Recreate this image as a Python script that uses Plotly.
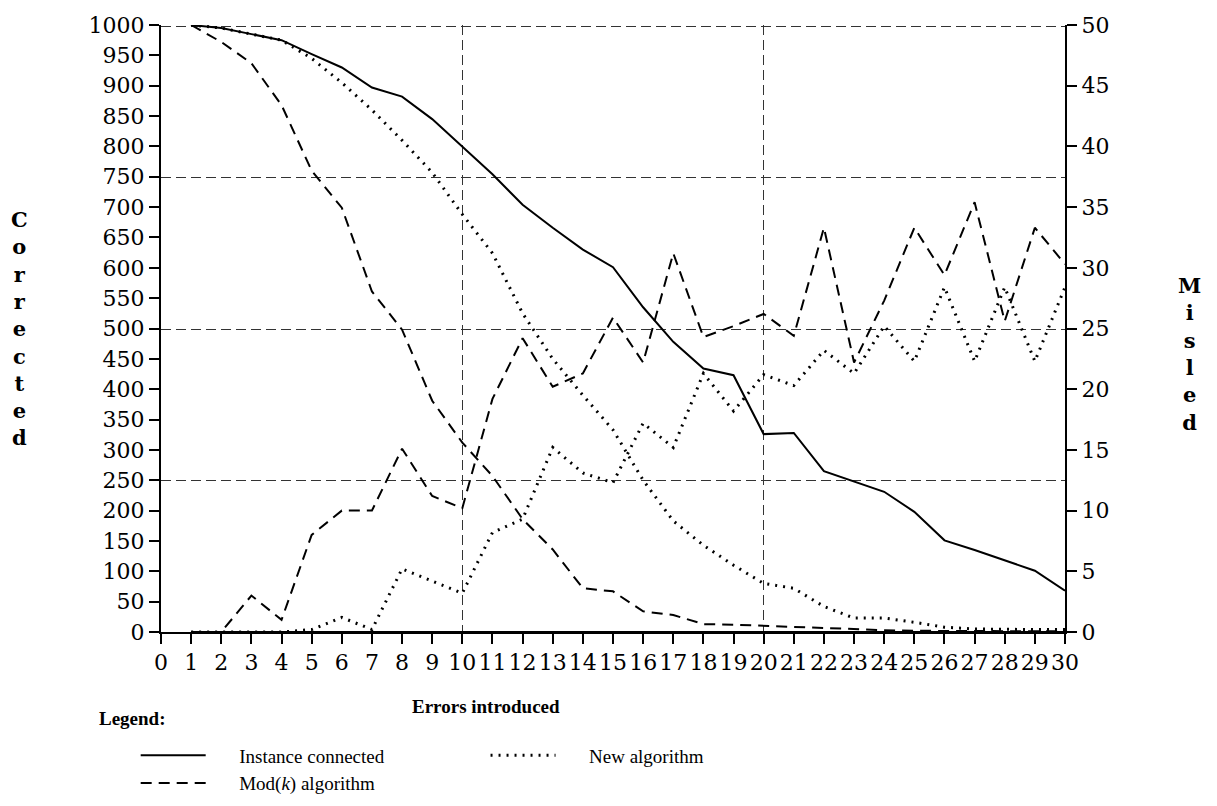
import plotly.graph_objects as go

errors = list(range(1, 31))

# Corrected (left axis)
inst_corrected = [1000, 995, 985, 975, 952, 930, 897, 882, 845, 800, 754, 704, 666, 630, 601,
                  535, 478, 434, 423, 326, 328, 265, 248, 231, 198, 151, 135, 118, 101, 68]
new_corrected = [1000, 995, 985, 975, 945, 905, 860, 810, 757, 688, 624, 525, 450, 390, 333,
                 250, 183, 143, 110, 80, 72, 42, 23, 23, 16, 8, 5, 4, 4, 4]
mod_corrected = [1000, 972, 937, 868, 760, 699, 561, 498, 381, 312, 257, 186, 136, 72, 67,
                 34, 28, 13, 12, 10, 8, 6, 4, 3, 2, 2, 1, 1, 1, 1]

# Misled (right axis)
inst_misled = [0] * 30
new_misled = [0, 0, 0, 0, 0.2, 1.2, 0.2, 5.2, 4.2, 3.2, 8.2, 9.3, 15.2, 13.1, 12.3,
              17.2, 15.2, 21.3, 18.2, 21.2, 20.3, 23.2, 21.3, 25.2, 22.3, 28.4, 22.3, 28.4, 22.3, 28.4]
mod_misled = [0, 0, 3.0, 1.0, 8.0, 10.0, 10.0, 15.1, 11.2, 10.2, 19.2, 24.2, 20.2, 21.3, 25.9,
              22.2, 31.2, 24.3, 25.2, 26.2, 24.4, 33.3, 22.2, 27.3, 33.3, 29.4, 35.4, 25.6, 33.3, 30.3]

SOLID = dict(color="black", width=2)
DOT = dict(color="black", width=3, dash="2px,6px")
DASH = dict(color="black", width=2, dash="11px,7px")
PAD = "&nbsp;" * 6

fig = go.Figure()
fig.add_trace(go.Scatter(x=errors, y=inst_corrected, mode="lines", line=SOLID,
                         xaxis="x", yaxis="y", name=PAD + "Instance connected", legend="legend"))
fig.add_trace(go.Scatter(x=errors, y=mod_corrected, mode="lines", line=DASH,
                         xaxis="x", yaxis="y", name=PAD + "Mod(<i>k</i>) algorithm", legend="legend"))
fig.add_trace(go.Scatter(x=errors, y=new_corrected, mode="lines", line=DOT,
                         xaxis="x", yaxis="y", name=PAD + "New algorithm", legend="legend2"))
fig.add_trace(go.Scatter(x=errors, y=new_misled, mode="lines", line=DOT,
                         xaxis="x", yaxis="y2", showlegend=False))
fig.add_trace(go.Scatter(x=errors, y=mod_misled, mode="lines", line=DASH,
                         xaxis="x", yaxis="y2", showlegend=False))
# x2 / y3 repeat the Errors (0-30) and Misled (0-50) scales; they carry the dashed grid
fig.add_trace(go.Scatter(x=errors, y=inst_misled, mode="lines", line=SOLID,
                         xaxis="x2", yaxis="y3", showlegend=False))

tickfont = dict(family="DejaVu Serif", size=22, color="black")
grid = dict(showgrid=True, gridcolor="#333", gridwidth=1, griddash="10px,5px",
            showticklabels=False, ticks="", showline=False, zeroline=False)
axis_line = dict(ticks="outside", ticklen=10, tickwidth=1.5, tickcolor="black",
                 showline=True, linewidth=2, linecolor="black",
                 showgrid=False, zeroline=False, tickfont=tickfont)
legend_font = dict(family="Liberation Serif", size=19, color="black")

fig.update_layout(
    width=1201, height=790,
    margin=dict(l=153, r=144, t=17, b=166, autoexpand=False),
    paper_bgcolor="white", plot_bgcolor="white",
    font=dict(family="Liberation Serif", color="black"),
    xaxis=dict(range=[0, 30], tick0=0, dtick=1, anchor="y", **axis_line),
    yaxis=dict(range=[0, 1000], tick0=0, dtick=50, anchor="x", **axis_line),
    yaxis2=dict(range=[0, 50], tick0=0, dtick=5, overlaying="y", side="right", anchor="x",
                **axis_line),
    xaxis2=dict(range=[0, 30], tick0=0, dtick=10, overlaying="x", anchor="y3", **grid),
    yaxis3=dict(range=[0, 50.1], tick0=0, dtick=12.5, overlaying="y", anchor="x2", **grid),
    legend=dict(orientation="v", x=-0.028, xanchor="left", y=-0.172, yanchor="top",
                font=legend_font, itemwidth=65, traceorder="normal", bgcolor="rgba(0,0,0,0)"),
    legend2=dict(orientation="v", x=0.359, xanchor="left", y=-0.172, yanchor="top",
                 font=legend_font, itemwidth=65, bgcolor="rgba(0,0,0,0)"),
    annotations=[
        dict(text="C<br>o<br>r<br>r<br>e<br>c<br>t<br>e<br>d", x=-0.156, y=0.5,
             xref="paper", yref="paper", showarrow=False, xanchor="center", yanchor="middle",
             font=dict(family="DejaVu Serif", size=21, color="black", weight="bold")),
        dict(text="M<br>i<br>s<br>l<br>e<br>d", x=1.138, y=0.458,
             xref="paper", yref="paper", showarrow=False, xanchor="center", yanchor="middle",
             font=dict(family="DejaVu Serif", size=21, color="black", weight="bold")),
        dict(text="<b>Errors introduced</b>", x=0.36, y=-0.122, xref="paper", yref="paper",
             showarrow=False, xanchor="center", yanchor="middle",
             font=dict(family="Liberation Serif", size=19, color="black")),
        dict(text="<b>Legend:</b>", x=-0.032, y=-0.142, xref="paper", yref="paper",
             showarrow=False, xanchor="center", yanchor="middle",
             font=dict(family="Liberation Serif", size=19, color="black")),
    ],
)

fig.write_html("out.html")
